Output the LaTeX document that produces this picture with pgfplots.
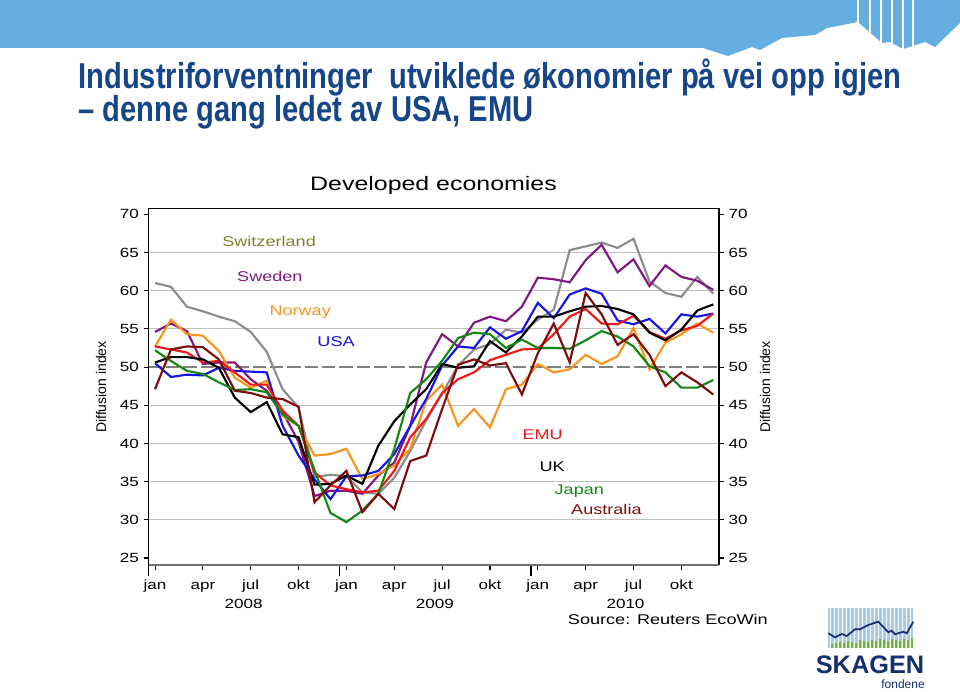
\documentclass[border=0pt]{standalone}
\usepackage{fontspec}
\setmainfont{Liberation Sans}
\newfontfamily\chartfont{Liberation Sans}[FakeStretch=1.28]
\newfontfamily\titlefont{Liberation Sans}[FakeStretch=0.81]
\usepackage{pgfplots}
\usepackage{pgfplotstable}
\pgfplotsset{compat=1.18}

\definecolor{banner}{RGB}{100,174,226}
\definecolor{titleblue}{RGB}{22,70,135}
\definecolor{cgray}{RGB}{140,140,140}
\definecolor{cpurple}{RGB}{128,24,128}
\definecolor{corange}{RGB}{247,148,30}
\definecolor{cblue}{RGB}{20,20,230}
\definecolor{cred}{RGB}{235,25,25}
\definecolor{cgreen}{RGB}{20,135,20}
\definecolor{cmaroon}{RGB}{125,12,12}
\definecolor{colive}{RGB}{128,128,48}
\definecolor{gridc}{RGB}{192,192,192}
\definecolor{dashc}{RGB}{128,128,128}
\definecolor{navy}{RGB}{22,48,110}
\definecolor{logoblue}{RGB}{160,205,238}
\definecolor{logogreen}{RGB}{110,180,60}

\pgfplotstableread{
m  ch    se    no    us    emu   uk    jp    au
0  61.0  54.6  52.7  50.5  52.7  50.6  52.2  47.1
1  60.5  55.7  56.2  48.7  52.3  51.3  50.8  52.3
2  57.9  54.7  54.3  49.0  51.9  51.3  49.5  52.7
3  57.3  50.4  54.1  48.9  50.6  51.0  49.1  52.6
4  56.6  50.6  52.1  49.9  50.8  49.9  48.0  51.0
5  56.0  50.6  48.6  49.5  49.3  46.0  47.0  46.9
6  54.6  48.4  47.3  49.4  47.7  44.1  47.1  46.6
7  52.0  46.9  48.2  49.3  47.7  45.4  46.7  46.0
8  47.1  44.1  43.6  42.3  44.3  41.2  43.8  45.8
9  44.7  40.2  42.3  38.4  42.3  40.8  42.3  44.8
10 35.6  33.1  38.4  35.3  36.2  34.6  36.5  32.3
11 35.9  33.8  38.6  32.7  34.5  34.7  30.9  34.5
12 35.7  33.8  39.3  35.7  34.0  35.8  29.7  36.4
13 33.6  33.4  35.3  35.8  33.6  34.7  31.2  31.0
14 33.4  35.8  36.0  36.4  33.8  39.7  33.4  33.4
15 35.5  37.5  37.1  38.6  36.4  42.9  39.3  31.4
16 39.0  42.3  39.3  42.3  40.8  45.1  46.6  37.7
17 43.0  50.6  45.6  45.8  43.2  47.1  48.4  38.4
18 46.5  54.3  47.7  50.2  46.6  50.4  50.8  44.5
19 50.2  52.7  42.3  52.7  48.4  49.9  53.8  50.3
20 52.3  55.8  44.5  52.5  49.3  50.1  54.5  51.0
21 53.0  56.6  42.1  55.2  50.9  53.4  54.3  50.2
22 54.9  56.0  47.1  53.7  51.6  51.9  52.5  50.5
23 54.5  57.9  47.7  54.7  52.3  54.0  53.6  46.4
24 56.2  61.7  50.4  58.4  52.4  56.6  52.5  51.8
25 57.5  61.5  49.3  56.4  54.3  56.6  52.5  55.7
26 65.3  61.1  49.7  59.5  56.6  57.3  52.4  50.6
27 65.8  64.0  51.6  60.3  57.6  57.9  53.5  59.7
28 66.3  66.0  50.4  59.6  55.7  58.0  54.7  56.9
29 65.6  62.4  51.4  56.1  55.6  57.6  54.0  52.9
30 66.8  64.1  55.1  55.6  56.7  56.9  52.7  54.3
31 61.2  60.6  49.7  56.3  54.6  54.5  50.1  51.6
32 59.7  63.3  53.2  54.4  53.7  53.5  49.3  47.5
33 59.2  61.8  54.3  56.9  54.8  54.9  47.3  49.3
34 61.8  61.3  55.7  56.6  55.4  57.4  47.3  48.0
35 59.6  60.1  54.5  57.0  57.0  58.2  48.3  46.4
}\datatable

\begin{document}
\begin{tikzpicture}
% ---------- decorations in pixel-like units (1 unit = 0.75pt) ----------
\begin{scope}[x=0.75pt,y=0.75pt]
\path[use as bounding box, fill=white] (0,0) rectangle (960,692);
% banner
\fill[banner] (0,692) -- (960,692) -- (960,669) -- (935,645) -- (925,650) -- (903,643)
  -- (890,650) -- (882,649) -- (858,670) -- (827,664) -- (815,657) -- (782,654)
  -- (760,642) -- (752,645) -- (728,636) -- (703,644) -- (0,644) -- cycle;
\foreach \sx in {858,870,881,892,903,913}{\draw[white, line width=0.8pt] (\sx,692) -- (\sx,640);}
% title
\node[anchor=base west, inner sep=0pt, text=titleblue, font=\titlefont\bfseries\fontsize{27}{32}\selectfont]
  at (78,603) {Industriforventninger\ \ utviklede økonomier på vei opp igjen};
\node[anchor=base west, inner sep=0pt, text=titleblue, font=\titlefont\bfseries\fontsize{27}{32}\selectfont]
  at (78,570) {– denne gang ledet av USA, EMU};
% chart title
\node[font=\chartfont\fontsize{14.6}{16}\selectfont] at (433.5,507) {Developed economies};
% y axis titles
\node[rotate=90, font=\fontsize{10.5}{12}\selectfont] at (101,305) {Diffusion index};
\node[rotate=90, font=\fontsize{10.5}{12}\selectfont] at (765,305) {Diffusion index};
% year labels and source
\node[font=\chartfont\fontsize{10}{12}\selectfont] at (243.6,88) {2008};
\node[font=\chartfont\fontsize{10}{12}\selectfont] at (434.8,88) {2009};
\node[font=\chartfont\fontsize{10}{12}\selectfont] at (625.5,88) {2010};
\node[anchor=east, inner sep=0pt, font=\chartfont\fontsize{10.6}{12}\selectfont] at (768,73) {Source: Reuters EcoWin};
% logo
\fill[logoblue] (828,44) rectangle (913,84);
\foreach \sx in {830,834,...,912}{\draw[white, line width=0.6pt] (\sx,44) -- (\sx,84);}
\foreach \sx/\h in {832/4,836/5,840/6,844/5,848/7,852/6,856/5,860/8,864/7,868/6,872/8,876/7,880/9,884/8,888/7,892/9,896/8,900/7,904/9,908/8,912/10}{\fill[logogreen] (\sx-0.9,44) rectangle (\sx+0.9,44+\h);}
\draw[navy, line width=1.3pt] (828.3,58.7) -- (835,54.7) -- (841.7,58) -- (846.7,56) -- (855,62.7) -- (860,62.7)
  -- (868.3,67) -- (878.3,70.3) -- (888.3,59.7) -- (891.7,61.3) -- (895,57.7) -- (903.3,60.3) -- (906.7,58.7) -- (913.3,70.3);
\node[anchor=base, inner sep=0pt, text=navy, font=\bfseries\fontsize{19}{20}\selectfont] at (870,18) {SKAGEN};
\node[anchor=base east, inner sep=0pt, text=navy, font=\fontsize{9}{9}\selectfont] at (925,3) {fondene};
\end{scope}

% ---------- main axis ----------
\begin{axis}[
  name=main,
  at={(111.375pt,95.25pt)}, anchor=south west,
  width=427.875pt, height=267.375pt, scale only axis,
  xmin=-0.41, xmax=35.36, ymin=24.08, ymax=70.76,
  clip=false,
  axis line style={draw=none},
  tick align=outside,
  major tick length=3.75pt,
  tick style={black, line width=0.8pt},
  xtick={0,3,...,33},
  xticklabels={jan,apr,jul,okt,jan,apr,jul,okt,jan,apr,jul,okt},
  xtick pos=left,
  extra x ticks={-0.41,11.56,23.56},
  extra x tick labels={},
  extra x tick style={major tick length=8.25pt, tick style={line width=1.1pt}},
  ytick={25,30,...,70},
  ytick pos=left,
  /pgf/number format/assume math mode=true,
  ticklabel style={font=\chartfont\fontsize{10}{12}\selectfont},
  xticklabel style={text height=7.5pt, text depth=2.2pt, yshift=-3.5pt},
]
\pgfplotsinvokeforeach{30,35,40,45,55,60,65}{
  \draw[gridc, line width=0.8pt] (axis cs:-0.41,#1) -- (axis cs:35.36,#1);
}
\draw[dashc, line width=1.5pt, dash pattern=on 10pt off 3pt] (axis cs:-0.41,50) -- (axis cs:35.36,50);

\addplot[cgray, line width=1.6pt] table[x=m, y=ch] {\datatable};
\addplot[cpurple, line width=1.6pt] table[x=m, y=se] {\datatable};
\addplot[corange, line width=1.6pt] table[x=m, y=no] {\datatable};
\addplot[cblue, line width=1.6pt] table[x=m, y=us] {\datatable};
\addplot[cred, line width=1.6pt] table[x=m, y=emu] {\datatable};
\addplot[black, line width=1.6pt] table[x=m, y=uk] {\datatable};
\addplot[cgreen, line width=1.6pt] table[x=m, y=jp] {\datatable};
\addplot[cmaroon, line width=1.6pt] table[x=m, y=au] {\datatable};

\draw[black, line width=1.1pt] (rel axis cs:0,0) -- (rel axis cs:0,1) -- (rel axis cs:1,1) -- (rel axis cs:1,0);
\draw[black!55, line width=1.1pt] (rel axis cs:0,0) -- (rel axis cs:1,0);

\begin{scope}[font=\chartfont\fontsize{10.6}{12}\selectfont]
\node[text=colive] at (axis cs:7.15,66.4) {Switzerland};
\node[text=cpurple] at (axis cs:7.2,61.9) {Sweden};
\node[text=corange] at (axis cs:9.1,57.2) {Norway};
\node[text=cblue] at (axis cs:11.35,53.3) {USA};
\node[text=cred] at (axis cs:24.3,41.1) {EMU};
\node[text=black] at (axis cs:24.9,36.9) {UK};
\node[text=cgreen] at (axis cs:26.6,33.8) {Japan};
\node[text=cmaroon] at (axis cs:28.3,31.3) {Australia};
\end{scope}
\end{axis}

% ---------- right-hand tick labels ----------
\begin{axis}[
  at={(111.375pt,95.25pt)}, anchor=south west,
  width=427.875pt, height=267.375pt, scale only axis,
  xmin=-0.41, xmax=35.36, ymin=24.08, ymax=70.76,
  hide x axis,
  axis line style={draw=none},
  tick align=outside,
  major tick length=3.75pt,
  tick style={black, line width=0.8pt},
  ytick={25,30,...,70},
  ytick pos=right,
  yticklabel pos=right,
  /pgf/number format/assume math mode=true,
  ticklabel style={font=\chartfont\fontsize{10}{12}\selectfont},
]
\end{axis}
\end{tikzpicture}
\end{document}
